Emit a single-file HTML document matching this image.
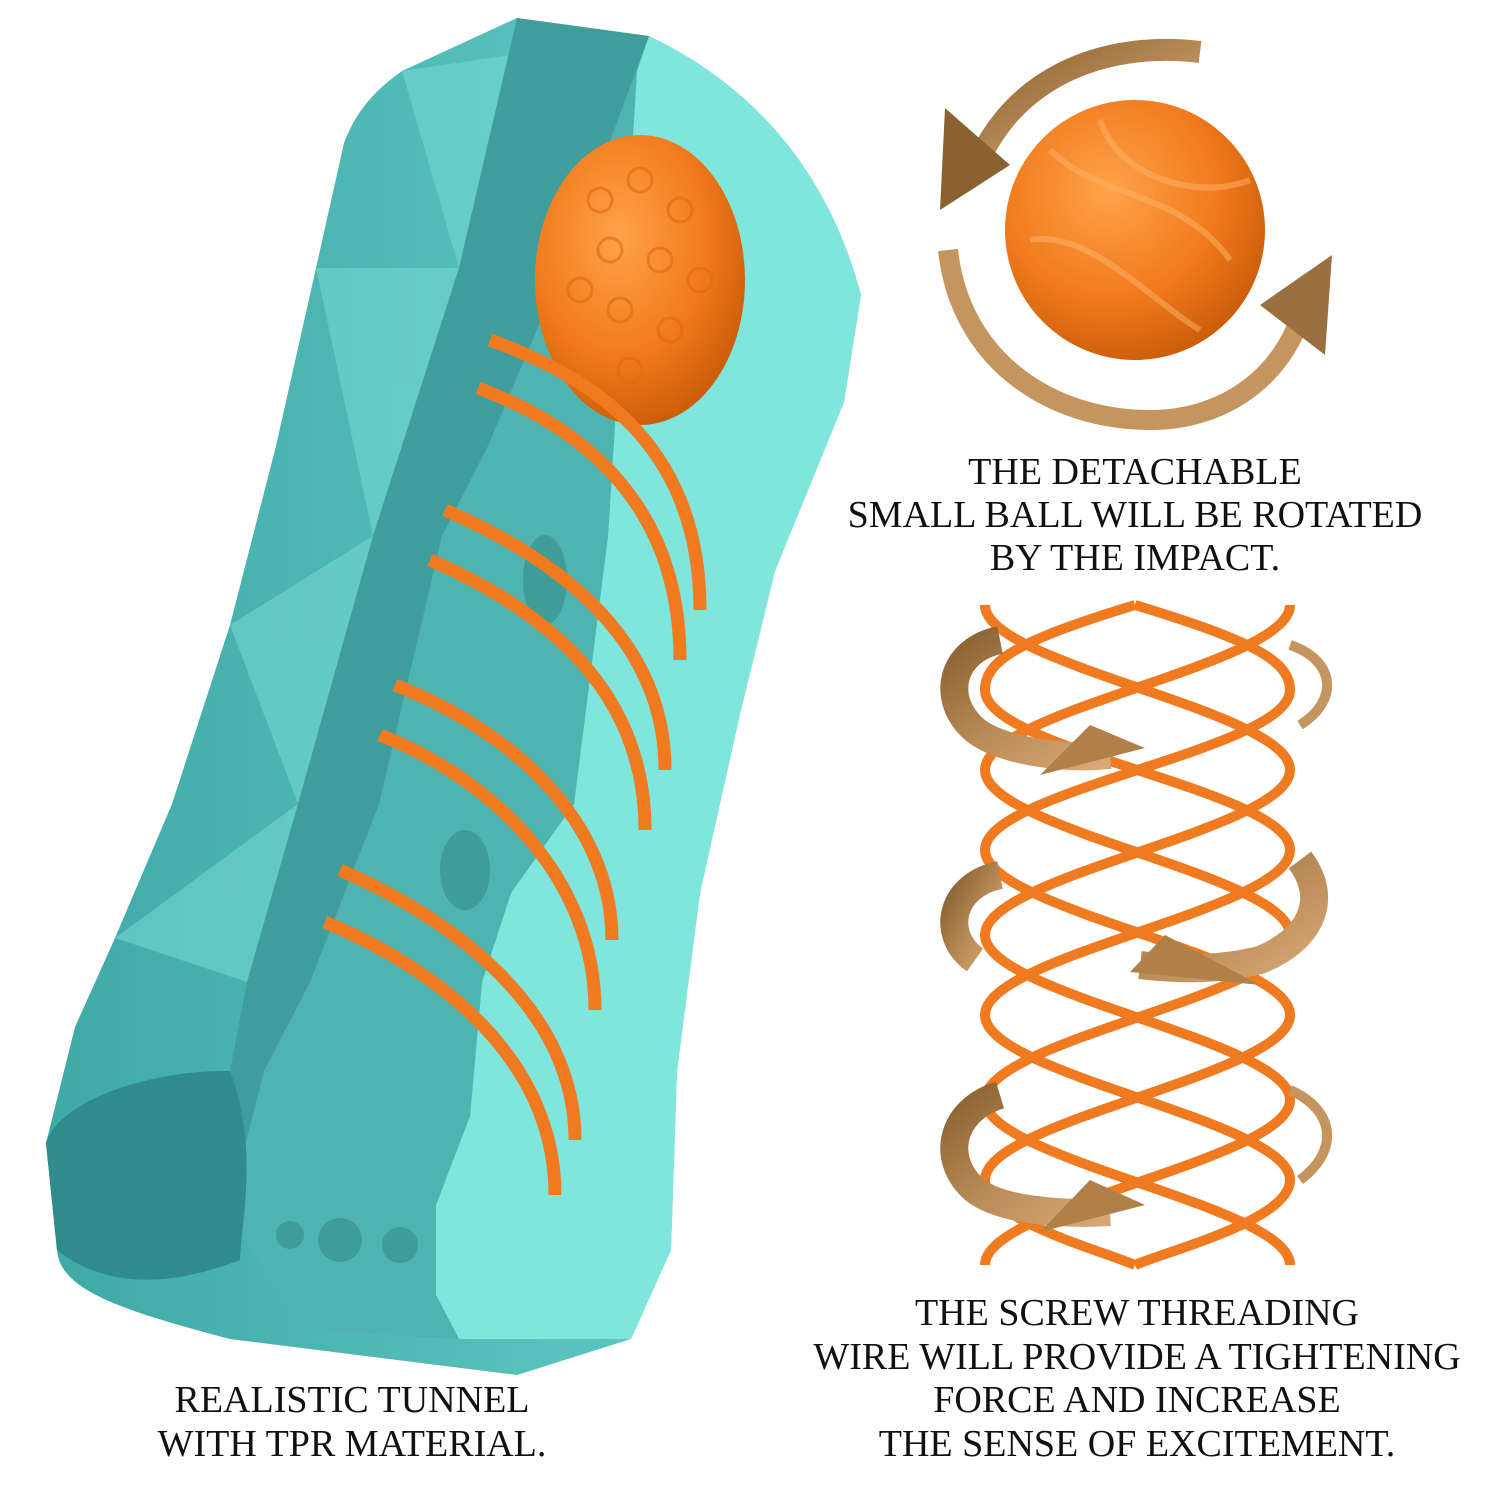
<!DOCTYPE html>
<html><head><meta charset="utf-8"><style>
html,body{margin:0;padding:0;background:#fff;}
svg{display:block}
text{font-family:"Liberation Serif",serif;font-size:38px;fill:#111;text-anchor:middle}
</style></head><body>
<svg width="1500" height="1500" viewBox="0 0 1500 1500" xmlns="http://www.w3.org/2000/svg">
<defs>
<radialGradient id="ball" cx="0.4" cy="0.35" r="0.7">
<stop offset="0" stop-color="#ffa24a"/><stop offset="0.6" stop-color="#f07a1c"/><stop offset="1" stop-color="#c85a08"/>
</radialGradient>
<linearGradient id="br" x1="0" y1="0" x2="1" y2="1">
<stop offset="0" stop-color="#8a6232"/><stop offset="0.5" stop-color="#b88a55"/><stop offset="1" stop-color="#d6a774"/>
</linearGradient>
<linearGradient id="shell" x1="0" y1="0" x2="1" y2="0">
<stop offset="0" stop-color="#3fa9a6"/><stop offset="1" stop-color="#66d0ca"/>
</linearGradient>
</defs>

<path d="M517,18 L649,36 C720,70 820,140 861,295 L844,402 L775,571 L740,714 L700,893 L677,1071 L671,1250 L631,1339 L517,1375 L230,1339 C120,1310 60,1290 57,1250 L46,1143 L75,1027 L115,938 L172,804 L230,625 L276,446 L316,268 L344,143 C360,100 390,80 402,71 Z" fill="url(#shell)"/>
<g fill="#7edbd5" opacity="0.5">
<path d="M402,71 L517,54 L459,268 Z"/><path d="M316,268 L459,268 L373,536 Z"/><path d="M230,625 L373,536 L298,804 Z"/><path d="M115,938 L298,804 L247,982 Z"/>
</g>
<path d="M649,36 C720,70 820,140 861,295 L844,402 L775,571 L740,714 L700,893 L677,1071 L671,1250 L631,1339 L459,1339 L436,1295 L436,1205 L470,1116 L482,982 L511,893 L574,804 L608,536 L637,71 Z" fill="#7fe5dd"/>
<path d="M637,71 L608,536 L574,804 L511,893 L482,982 L470,1116 L436,1205 L436,1295 L459,1339 L300,1330 L230,1214 L241,1161 L264,1071 L310,982 L379,804 L442,536 L488,446 L563,268 L649,36 Z" fill="#4fb3b0"/>
<g fill="#3e9c99">
<circle cx="340" cy="1240" r="22"/><circle cx="400" cy="1245" r="18"/><circle cx="290" cy="1235" r="14"/>
<ellipse cx="465" cy="870" rx="25" ry="40"/><ellipse cx="545" cy="580" rx="22" ry="45"/>
</g>
<path d="M517,18 L649,36 L563,268 L488,446 L442,536 L379,804 L310,982 L264,1071 L241,1161 L230,1214 L240,1260 C200,1275 120,1300 57,1250 L46,1143 C60,1100 150,1070 230,1071 L247,982 L298,804 L373,536 L459,268 Z" fill="#3f9e9c"/>
<path d="M46,1143 C60,1100 150,1070 230,1071 C260,1150 240,1230 240,1260 C200,1275 120,1300 57,1250 Z" fill="#2f8c8a"/>

<ellipse cx="640" cy="280" rx="105" ry="145" fill="url(#ball)"/>
<g fill="none" stroke="#e06a10" stroke-width="3" opacity="0.6">
<circle cx="600" cy="200" r="12"/><circle cx="640" cy="180" r="12"/><circle cx="680" cy="210" r="12"/><circle cx="610" cy="250" r="12"/><circle cx="660" cy="260" r="12"/><circle cx="700" cy="280" r="12"/><circle cx="620" cy="310" r="12"/><circle cx="670" cy="330" r="12"/><circle cx="580" cy="290" r="12"/><circle cx="630" cy="370" r="12"/>
</g>

<g fill="none" stroke="#f07a20" stroke-width="13" stroke-linecap="butt">
<path d="M490,340 C600,380 700,450 700,610"/>
<path d="M478,388 C590,430 680,510 680,660"/>
<path d="M445,510 C560,560 665,640 665,770"/>
<path d="M430,560 C545,610 645,690 645,830"/>
<path d="M395,685 C510,730 612,820 612,940"/>
<path d="M380,735 C495,780 595,880 595,1010"/>
<path d="M340,870 C455,920 575,1010 575,1140"/>
<path d="M325,922 C440,970 555,1060 555,1195"/>
</g>

<circle cx="1135" cy="230" r="130" fill="url(#ball)"/>
<g fill="none" stroke="#ffb46a" stroke-width="6" opacity="0.5">
<path d="M1050,150 C1100,200 1180,190 1230,260"/><path d="M1030,240 C1090,230 1150,300 1200,330"/><path d="M1100,120 C1120,180 1200,200 1250,180"/>
</g>
<path d="M1200,52 C1100,40 1010,80 975,170" fill="none" stroke="url(#br)" stroke-width="22"/>
<path d="M945,108 L1010,165 L940,210 Z" fill="#8a6232"/>
<path d="M948,250 C960,360 1050,420 1150,420 C1230,420 1290,370 1305,300" fill="none" stroke="#c4955f" stroke-width="20"/>
<path d="M1260,305 L1332,255 L1325,355 Z" fill="#9a7040"/>

<g fill="none" stroke="#f07a20" stroke-width="10">
<path d="M1290,605 C1290,665 985,710 985,770 C985,830 1290,875 1290,935 C1290,995 985,1040 985,1100 C985,1160 1290,1205 1290,1265"/>
<path d="M985,605 C985,665 1290,710 1290,770 C1290,830 985,875 985,935 C985,995 1290,1040 1290,1100 C1290,1160 985,1205 985,1265"/>
<path d="M1135,605 C1250,640 1290,660 1290,690 C1290,750 985,790 985,850 C985,910 1290,955 1290,1015 C1290,1075 985,1120 985,1180 C985,1220 1100,1250 1135,1265"/>
<path d="M1135,605 C1020,640 985,660 985,690 C985,750 1290,790 1290,850 C1290,910 985,955 985,1015 C985,1075 1290,1120 1290,1180 C1290,1220 1170,1250 1135,1265"/>
</g>
<g fill="none" stroke="url(#br)" stroke-width="28">
<path d="M1000,640 C950,650 940,700 975,730 C1000,750 1060,760 1110,755"/>
<path d="M1000,875 C950,885 940,935 975,960"/>
<path d="M1300,860 C1330,900 1310,940 1260,960 C1220,970 1180,970 1140,965"/>
<path d="M1000,1095 C950,1110 940,1160 975,1190 C1000,1210 1060,1215 1110,1212"/>
</g>
<g fill="none" stroke="#c4955f" stroke-width="10">
<path d="M1290,645 C1335,660 1340,700 1300,725"/>
<path d="M1290,1090 C1335,1110 1340,1150 1300,1180"/>
</g>
<g fill="#b08048">
<path d="M1090,725 L1145,748 L1040,775 Z"/>
<path d="M1165,935 L1130,972 L1260,985 Z"/>
<path d="M1090,1180 L1145,1205 L1040,1232 Z"/>
</g>

<text x="1135" y="484">THE DETACHABLE</text>
<text x="1135" y="527">SMALL BALL WILL BE ROTATED</text>
<text x="1135" y="570">BY THE IMPACT.</text>
<text x="1137" y="1325">THE SCREW THREADING</text>
<text x="1137" y="1369">WIRE WILL PROVIDE A TIGHTENING</text>
<text x="1137" y="1412">FORCE AND INCREASE</text>
<text x="1137" y="1456">THE SENSE OF EXCITEMENT.</text>
<text x="352" y="1412">REALISTIC TUNNEL</text>
<text x="352" y="1456">WITH TPR MATERIAL.</text>
</svg>
</body></html>
